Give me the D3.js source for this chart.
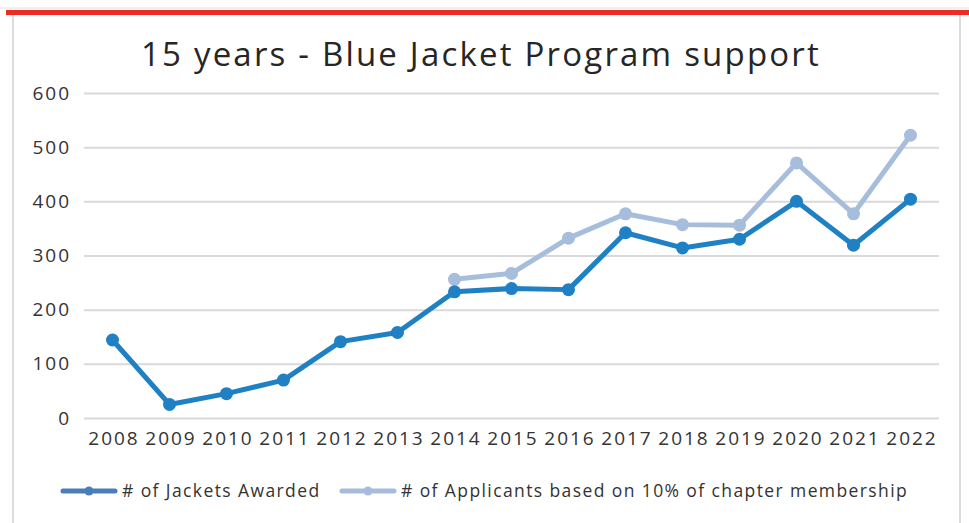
<!DOCTYPE html>
<html lang="en">
<head>
<meta charset="UTF-8">
<title>15 years - Blue Jacket Program support</title>
<style>
    body { margin: 0; background: #fff; }
    text { font-family: "Open Sans", sans-serif; fill: #262626; }
    .title { font-size: 33px; text-anchor: middle; font-weight: 400; letter-spacing: 2.2px; }
    .tick text { font-size: 19px; fill: #333; letter-spacing: 2px; }
    .grid line { stroke: #d9d9d9; stroke-width: 2px; }
    .grid path { display: none; }
    .legend text { font-size: 17.5px; fill: #333; dominant-baseline: middle; letter-spacing: 1.4px; }
</style>
</head>
<body>
<script src="https://d3js.org/d3.v7.min.js"></script>
<script>
const years = ['2008', '2009', '2010', '2011', '2012', '2013', '2014', '2015',
    '2016', '2017', '2018', '2019', '2020', '2021', '2022'];
const jackets = [144, 25, 45, 70, 141, 158, 233, 239, 237, 342, 314, 330, 400, 319, 404];
const applicants = [null, null, null, null, null, null, 256, 267, 332, 377, 357, 356, 471, 377, 522];
const yTicks = [0, 100, 200, 300, 400, 500, 600];

const width = 969, height = 523;
const plot = { left: 84, right: 939, top: 93, bottom: 418 };

const svg = d3.select('body').append('svg')
    .attr('width', width)
    .attr('height', height);

// frame
svg.append('line').attr('x1', 0).attr('x2', width).attr('y1', 8).attr('y2', 8)
    .attr('stroke', '#e0e0e0').attr('stroke-width', 1);
svg.append('line').attr('x1', 13).attr('x2', 13).attr('y1', 14).attr('y2', height)
    .attr('stroke', '#d0d0d0').attr('stroke-width', 1.5);
svg.append('line').attr('x1', 960).attr('x2', 960).attr('y1', 14).attr('y2', height)
    .attr('stroke', '#d0d0d0').attr('stroke-width', 1.5);
svg.append('rect').attr('x', 6).attr('y', 10).attr('width', width - 6).attr('height', 5)
    .attr('fill', '#ee2a24');

const x = d3.scalePoint()
    .domain(years)
    .range([plot.left, plot.right])
    .padding(0.5);
const y = d3.scaleLinear()
    .domain([0, 600])
    .range([plot.bottom, plot.top]);

svg.append('text')
    .attr('class', 'title')
    .attr('x', 481)
    .attr('y', 66)
    .text('15 years - Blue Jacket Program support');

svg.append('g')
    .attr('class', 'grid')
    .attr('transform', `translate(${plot.left}, 0)`)
    .call(d3.axisLeft(y).tickValues(yTicks).tickSize(-(plot.right - plot.left)).tickFormat(''));

svg.append('g')
    .attr('transform', `translate(${plot.left}, 0)`)
    .call(d3.axisLeft(y).tickValues(yTicks).tickSize(0).tickPadding(13))
    .call(g => g.select('.domain').remove());

svg.append('g')
    .attr('transform', `translate(1, ${plot.bottom})`)
    .call(d3.axisBottom(x).tickSize(0).tickPadding(14))
    .call(g => g.select('.domain').remove());

const series = [
    { name: '# of Jackets Awarded', values: jackets, color: '#1f80c3', legendColor: '#4a7ebb' },
    { name: '# of Applicants based on 10% of chapter membership', values: applicants, color: '#a7bddc', legendColor: '#a7bbdd' }
];

const line = d3.line()
    .defined(d => d.v != null)
    .x(d => x(d.year))
    .y(d => y(d.v));

// draw applicants first so jackets sit on top
series.slice().reverse().forEach(s => {
    const pts = years.map((yr, i) => ({ year: yr, v: s.values[i] }));
    svg.append('path')
        .datum(pts)
        .attr('fill', 'none')
        .attr('stroke', s.color)
        .attr('stroke-width', 5)
        .attr('stroke-linejoin', 'round')
        .attr('d', line);
    svg.append('g').selectAll('circle')
        .data(pts.filter(d => d.v != null))
        .join('circle')
        .attr('cx', d => x(d.year))
        .attr('cy', d => y(d.v))
        .attr('r', 6.5)
        .attr('fill', s.color);
});

// legend
const legend = svg.append('g').attr('class', 'legend');
const legendX = [63, 342];
series.forEach((s, i) => {
    const g = legend.append('g').attr('transform', `translate(${legendX[i]}, 491)`);
    g.append('line').attr('x1', 0).attr('x2', 52).attr('y1', 0).attr('y2', 0)
        .attr('stroke', s.legendColor).attr('stroke-width', 5)
        .attr('stroke-linecap', 'round');
    g.append('circle').attr('cx', 26).attr('cy', 0).attr('r', 4.5).attr('fill', s.legendColor);
    g.append('text').attr('x', 59).attr('y', 1).text(s.name);
});
</script>
</body>
</html>
